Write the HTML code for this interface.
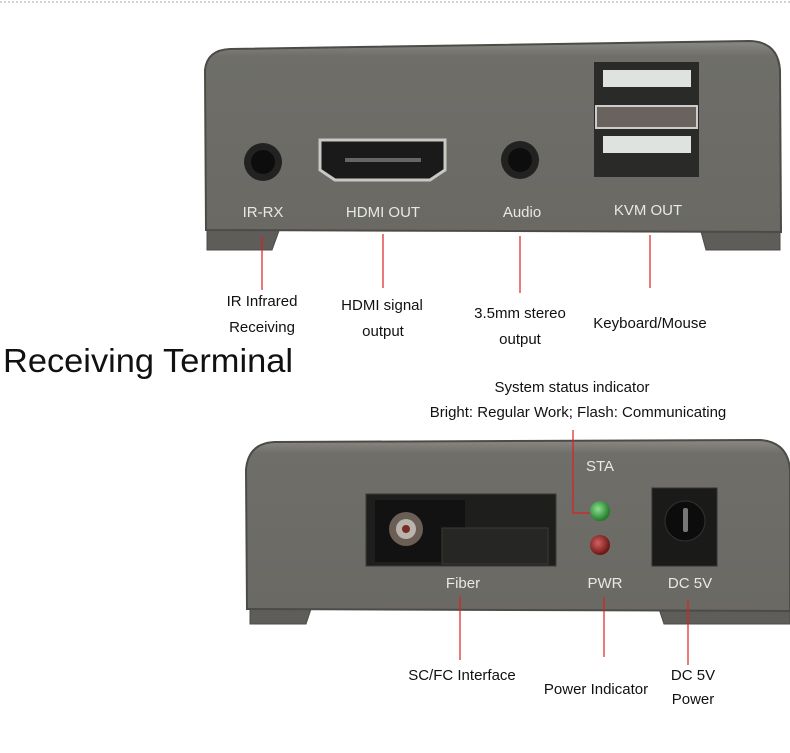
<!DOCTYPE html>
<html><head><meta charset="utf-8"><style>
html,body{margin:0;padding:0;background:#fff;width:790px;height:753px;overflow:hidden}
svg{display:block}
text{font-family:"Liberation Sans","Noto Sans CJK JP",sans-serif}
.lab{font-size:15px;fill:#111;text-anchor:middle}
.dev{font-size:15px;fill:#e8e8e4;text-anchor:middle}
.rl{stroke:#e02020;stroke-width:1.2;fill:none}
</style></head><body>
<svg width="790" height="753" viewBox="0 0 790 753" xmlns="http://www.w3.org/2000/svg">
<defs>
<linearGradient id="body" x1="0" y1="0" x2="0" y2="1">
<stop offset="0" stop-color="#8a8984"/><stop offset="0.08" stop-color="#6f6e69"/><stop offset="1" stop-color="#6a6964"/>
</linearGradient>
<radialGradient id="g" cx="0.4" cy="0.4" r="0.6"><stop offset="0" stop-color="#8fe08f"/><stop offset="1" stop-color="#1f7a2a"/></radialGradient>
<radialGradient id="r" cx="0.4" cy="0.4" r="0.6"><stop offset="0" stop-color="#d46060"/><stop offset="1" stop-color="#6a1515"/></radialGradient>
</defs>
<line x1="0" y1="2" x2="790" y2="2" stroke="#aaa" stroke-dasharray="2,2"/>

<!-- top device -->
<path d="M207 228 L207 250 L272 250 L280 228 Z" fill="#5e5d59" stroke="#4c4b47"/>
<path d="M700 228 L706 250 L780 250 L780 228 Z" fill="#5e5d59" stroke="#4c4b47"/>
<path d="M205 70 Q207 50 230 49 L750 41 Q778 42 780 70 L781 232 L206 230 Z" fill="url(#body)" stroke="#4c4b47" stroke-width="2"/>
<circle cx="263" cy="162" r="19" fill="#222"/><circle cx="263" cy="162" r="12" fill="#0d0d0d"/>
<path d="M320 140 L445 140 L445 170 L430 180 L335 180 L320 170 Z" fill="#1a1a1a" stroke="#c8c8c4" stroke-width="3"/>
<rect x="345" y="158" width="76" height="4" fill="#666"/>
<circle cx="520" cy="160" r="19" fill="#222"/><circle cx="520" cy="160" r="12" fill="#0d0d0d"/>
<rect x="594" y="62" width="105" height="115" fill="#2a2a28"/>
<rect x="603" y="70" width="88" height="17" fill="#dfe3df"/>
<rect x="596" y="106" width="101" height="22" fill="#6a625c" stroke="#ccc" stroke-width="2"/>
<rect x="603" y="136" width="88" height="17" fill="#dfe3df"/>
<text class="dev" x="263" y="217">IR-RX</text>
<text class="dev" x="383" y="217">HDMI OUT</text>
<text class="dev" x="522" y="217">Audio</text>
<text class="dev" x="648" y="215">KVM OUT</text>
<line class="rl" x1="262" y1="236" x2="262" y2="290"/>
<line class="rl" x1="383" y1="234" x2="383" y2="288"/>
<line class="rl" x1="520" y1="236" x2="520" y2="293"/>
<line class="rl" x1="650" y1="235" x2="650" y2="288"/>

<text class="lab" x="262" y="306">IR Infrared</text>
<text class="lab" x="262" y="332">Receiving</text>
<text class="lab" x="382" y="310">HDMI signal</text>
<text class="lab" x="383" y="336">output</text>
<text class="lab" x="520" y="318">3.5mm stereo</text>
<text class="lab" x="520" y="344">output</text>
<text class="lab" x="650" y="328">Keyboard/Mouse</text>
<text x="3" y="372" font-size="33" fill="#111" textLength="290" lengthAdjust="spacingAndGlyphs">Receiving Terminal</text>
<text class="lab" x="572" y="392">System status indicator</text>
<text class="lab" x="578" y="417">Bright: Regular Work; Flash: Communicating</text>

<!-- bottom device -->
<path d="M250 606 L250 624 L306 624 L312 606 Z" fill="#5e5d59" stroke="#4c4b47"/>
<path d="M658 606 L664 624 L790 624 L790 606 Z" fill="#5e5d59" stroke="#4c4b47"/>
<path d="M246 470 Q248 443 275 442 L760 440 Q788 442 790 470 L790 611 L247 609 Z" fill="url(#body)" stroke="#4c4b47" stroke-width="2"/>
<rect x="366" y="494" width="190" height="72" fill="#1e1e1d" stroke="#3a3a38"/>
<rect x="375" y="500" width="90" height="62" fill="#121212"/>
<rect x="442" y="528" width="106" height="36" fill="#262625" stroke="#3a3a38"/>
<circle cx="406" cy="529" r="17" fill="#6a5e55"/><circle cx="406" cy="529" r="10" fill="#b9b4ae"/><circle cx="406" cy="529" r="4" fill="#7a2a20"/>
<text class="dev" x="600" y="471">STA</text>
<circle cx="600" cy="511" r="10" fill="url(#g)"/>
<circle cx="600" cy="545" r="10" fill="url(#r)"/>
<rect x="652" y="488" width="65" height="78" fill="#1a1a19" stroke="#333"/>
<circle cx="685" cy="521" r="20" fill="#0c0c0c" stroke="#333"/>
<rect x="683" y="508" width="5" height="24" rx="2" fill="#777"/>
<text class="dev" x="463" y="588">Fiber</text>
<text class="dev" x="605" y="588">PWR</text>
<text class="dev" x="690" y="588">DC 5V</text>
<polyline class="rl" points="573,430 573,513 590,513"/>
<line class="rl" x1="460" y1="596" x2="460" y2="660"/>
<line class="rl" x1="604" y1="597" x2="604" y2="657"/>
<line class="rl" x1="688" y1="600" x2="688" y2="665"/>
<text class="lab" x="462" y="680">SC/FC Interface</text>
<text class="lab" x="596" y="694">Power Indicator</text>
<text class="lab" x="693" y="680">DC 5V</text>
<text class="lab" x="693" y="704">Power</text>
</svg>
</body></html>
